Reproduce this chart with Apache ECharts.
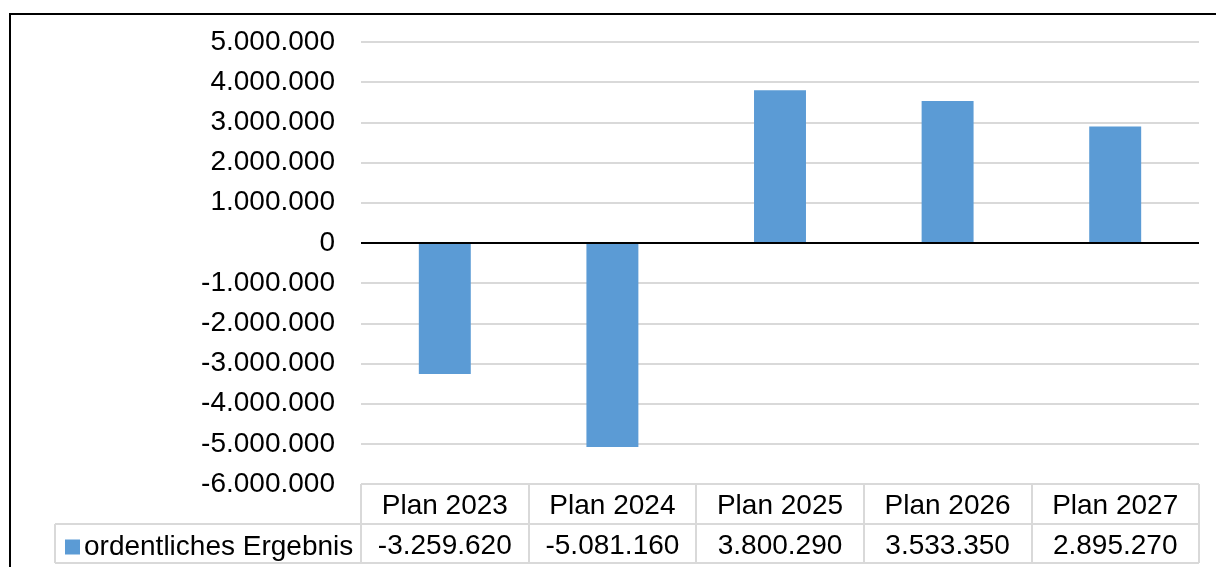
<!DOCTYPE html>
<html>
<head>
<meta charset="utf-8">
<script src="https://cdn.jsdelivr.net/npm/echarts@6/dist/echarts.min.js"></script>
<style>html,body{margin:0;padding:0;background:#fff}#c{width:1216px;height:567px}</style>
</head>
<body>
<div id="c"></div>
<script>
const categories = ['Plan 2023', 'Plan 2024', 'Plan 2025', 'Plan 2026', 'Plan 2027'];
const seriesName = 'ordentliches Ergebnis';
const values = [-3259620, -5081160, 3800290, 3533350, 2895270];
const yMin = -6000000, yMax = 5000000, yStep = 1000000;

function fmt(v) {
  return Math.round(v).toString().replace(/\B(?=(\d{3})+(?!\d))/g, '.');
}

const FONT = 'Liberation Sans, Arial, sans-serif';
const FS = 28;
const GRID = { left: 361, right: 17, top: 42, bottom: 83 };
const ROW = 40;
const LINE = '#d9d9d9';

const chart = echarts.init(document.getElementById('c'), null, { renderer: 'canvas' });
chart.setOption({
  animation: false,
  backgroundColor: '#fff',
  textStyle: { fontFamily: FONT },
  grid: GRID,
  legend: {
    show: true,
    left: 60, top: 528,
    itemWidth: 15, itemHeight: 15, itemGap: 6,
    icon: 'rect',
    data: [seriesName],
    textStyle: { fontFamily: FONT, fontSize: FS, color: '#000', padding: [0, 0, 0, -1] }
  },
  xAxis: [
    {
      type: 'category', data: categories, position: 'bottom',
      axisLine: { show: false, onZero: false },
      axisTick: { show: true, interval: 0, length: ROW, lineStyle: { color: LINE, width: 2 } },
      axisLabel: { interval: 0, hideOverlap: false, margin: 8, color: '#000', fontSize: FS, fontFamily: FONT }
    },
    {
      type: 'category', data: values.map(fmt), position: 'bottom', offset: ROW,
      axisLine: { show: true, onZero: false, lineStyle: { color: LINE, width: 2 } },
      axisTick: { show: true, interval: 0, length: ROW - 1, lineStyle: { color: LINE, width: 2 } },
      axisLabel: { interval: 0, hideOverlap: false, margin: 8, color: '#000', fontSize: FS, fontFamily: FONT }
    }
  ],
  yAxis: {
    type: 'value', min: yMin, max: yMax, interval: yStep,
    axisLine: { show: false }, axisTick: { show: false },
    splitLine: { lineStyle: { color: LINE, width: 2 } },
    axisLabel: { margin: 26, color: '#000', fontSize: FS, fontFamily: FONT, formatter: fmt }
  },
  series: [{
    name: seriesName, type: 'bar', data: values, barWidth: '31%',
    itemStyle: { color: '#5B9BD5' },
    markLine: {
      silent: true, symbol: 'none', label: { show: false },
      lineStyle: { color: '#000', width: 2, type: 'solid' },
      data: [{ yAxis: 0 }]
    }
  }],
  graphic: [
    { type: 'rect', shape: { x: 10, y: 14, width: 1400, height: 800 },
      style: { fill: 'none', stroke: '#000', lineWidth: 2 }, silent: true },
    { type: 'line', shape: { x1: 55, y1: 567 - GRID.bottom + ROW, x2: GRID.left, y2: 567 - GRID.bottom + ROW },
      style: { stroke: LINE, lineWidth: 2 } },
    { type: 'line', shape: { x1: 55, y1: 567 - GRID.bottom + 2 * ROW - 1, x2: 1216 - GRID.right, y2: 567 - GRID.bottom + 2 * ROW - 1 },
      style: { stroke: LINE, lineWidth: 2 } },
    { type: 'line', shape: { x1: 55, y1: 567 - GRID.bottom + ROW, x2: 55, y2: 567 - GRID.bottom + 2 * ROW - 1 },
      style: { stroke: LINE, lineWidth: 2 } }
  ]
});
</script>
</body>
</html>
